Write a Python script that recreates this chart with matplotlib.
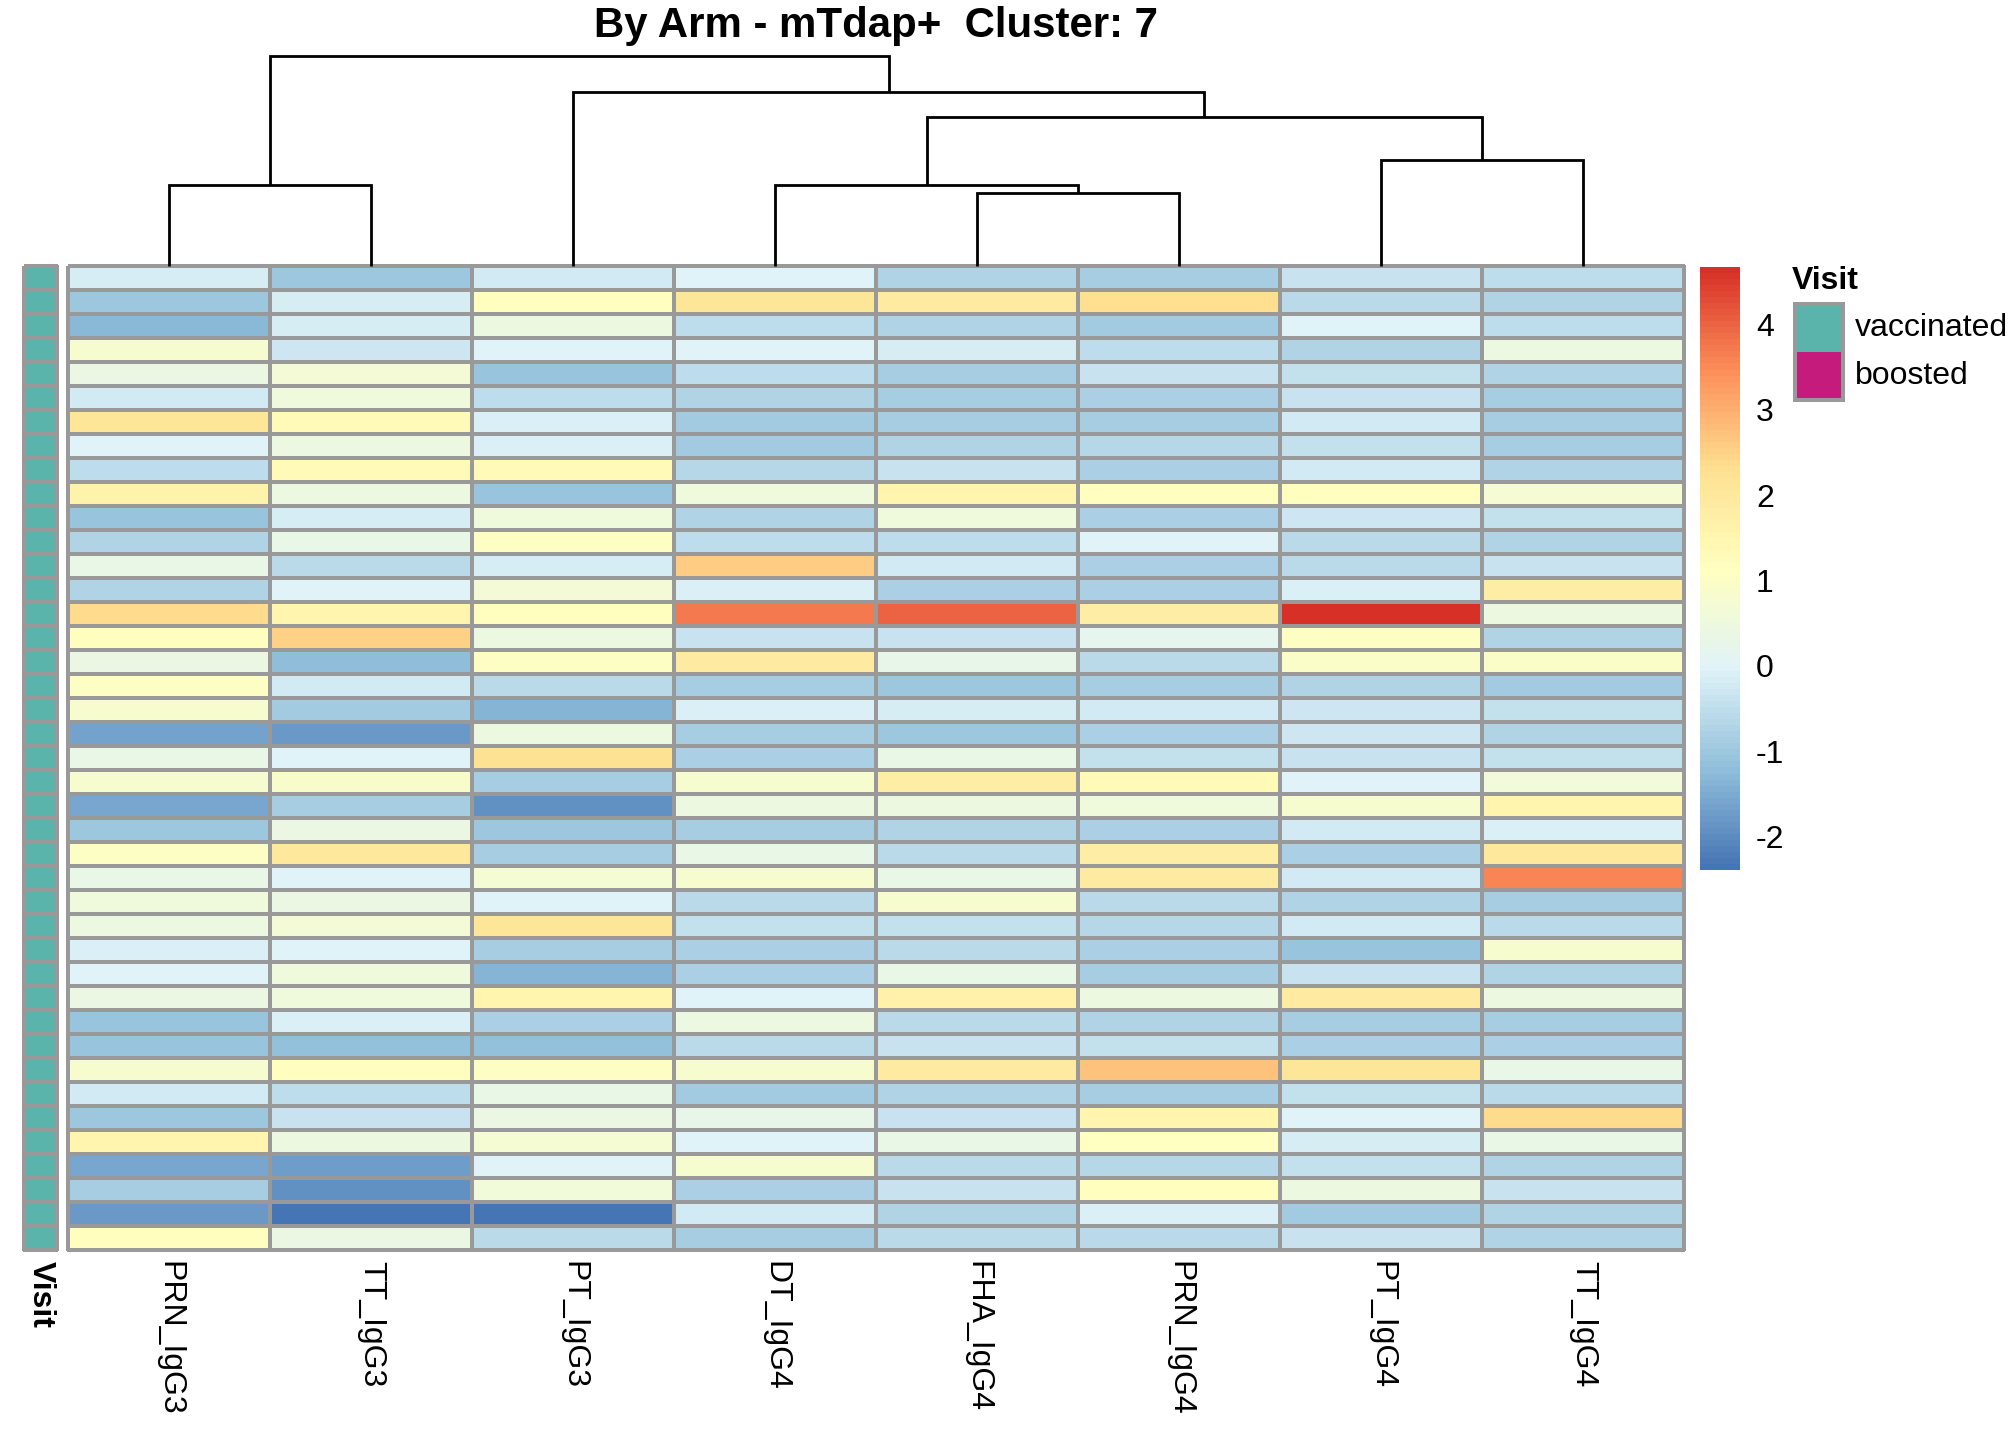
"""Clustered heatmap of antibody responses, pheatmap style."""

import matplotlib
matplotlib.use("Agg")
import matplotlib.pyplot as plt
import numpy as np
from matplotlib.cm import ScalarMappable
from matplotlib.colors import LinearSegmentedColormap, ListedColormap, Normalize
from matplotlib.patches import Rectangle

plt.rcParams["font.family"] = ["Liberation Sans", "DejaVu Sans"]
plt.rcParams["axes.unicode_minus"] = False

TITLE = "By Arm - mTdap+  Cluster: 7"
COLUMNS = ["PRN_IgG3", "TT_IgG3", "PT_IgG3", "DT_IgG4",
           "FHA_IgG4", "PRN_IgG4", "PT_IgG4", "TT_IgG4"]

PRN_IgG3 = [-0.2, -1.0, -1.3, 0.8, 0.4, -0.25, 2.1, -0.05, -0.5, 1.6, -1.05, -0.7, 0.3, -0.7,
            2.4, 1.2, 0.4, 1.0, 0.8, -1.65, 0.35, 0.8, -1.6, -1.0, 1.0, 0.35, 0.55, 0.45,
            -0.1, -0.05, 0.4, -1.05, -1.05, 0.8, -0.25, -1.0, 1.5, -1.6, -0.9, -1.8, 1.15]
TT_IgG3 = [-1.0, -0.2, -0.2, -0.3, 0.7, 0.55, 1.3, 0.5, 1.3, 0.5, -0.2, 0.3, -0.6, -0.05,
           1.5, 2.5, -1.2, -0.25, -0.95, -1.8, -0.05, 0.9, -0.9, 0.4, 2.0, -0.05, 0.4, 0.65,
           -0.05, 0.55, 0.55, -0.1, -1.15, 1.2, -0.5, -0.35, 0.45, -1.75, -1.95, -2.39, 0.4]
PT_IgG3 = [-0.25, 1.2, 0.5, -0.05, -1.05, -0.5, -0.1, -0.1, 1.3, -1.05, 0.55, 1.0, -0.2, 0.7,
           1.2, 0.5, 1.0, -0.6, -1.35, 0.45, 2.2, -0.9, -1.95, -1.0, -0.9, 0.75, -0.05, 2.1,
           -0.9, -1.35, 1.55, -0.8, -1.15, 1.0, 0.35, 0.4, 0.75, -0.05, 0.6, -2.35, -0.6]
DT_IgG4 = [0.0, 2.1, -0.5, -0.05, -0.5, -0.75, -0.95, -0.95, -0.65, 0.55, -0.7, -0.5, 2.6, -0.1,
           3.7, -0.4, 1.9, -0.9, -0.1, -0.9, -0.8, 0.8, 0.45, -0.9, 0.3, 0.85, -0.6, -0.45,
           -0.8, -0.8, -0.05, 0.45, -0.6, 0.8, -0.95, 0.25, -0.05, 0.8, -0.8, -0.25, -0.9]
FHA_IgG4 = [-0.7, 1.9, -0.7, -0.15, -0.85, -0.85, -0.9, -0.75, -0.4, 1.5, 0.55, -0.5, -0.25, -0.8,
            4.0, -0.4, 0.25, -1.0, -0.2, -1.0, 0.3, 1.8, 0.45, -0.7, -0.6, 0.3, 0.8, -0.45,
            -0.6, 0.3, 1.7, -0.6, -0.35, 1.9, -0.75, -0.35, 0.35, -0.6, -0.35, -0.7, -0.6]
PRN_IgG4 = [-0.85, 2.3, -0.95, -0.5, -0.4, -0.8, -0.85, -0.65, -0.8, 1.2, -0.8, -0.05, -0.8, -0.8,
            1.8, 0.2, -0.6, -0.9, -0.25, -0.8, -0.45, 1.3, 0.55, -0.8, 1.8, 1.9, -0.6, -0.65,
            -0.8, -0.9, 0.5, -0.7, -0.45, 2.7, -0.9, 1.5, 1.1, -0.65, 1.2, -0.1, -0.6]
PT_IgG4 = [-0.4, -0.6, -0.05, -0.75, -0.45, -0.4, -0.25, -0.45, -0.25, 1.15, -0.3, -0.6, -0.6, -0.1,
           4.65, 1.0, 0.95, -0.7, -0.3, -0.3, -0.4, -0.05, 0.8, -0.25, -0.8, -0.25, -0.7, -0.25,
           -1.05, -0.4, 1.85, -0.85, -0.8, 2.1, -0.45, -0.05, -0.15, -0.45, 0.5, -0.95, -0.4]
TT_IgG4 = [-0.5, -0.7, -0.5, 0.5, -0.7, -0.85, -0.85, -0.85, -0.7, 0.75, -0.45, -0.75, -0.35, 1.8,
           0.45, -0.7, 0.95, -0.95, -0.45, -0.75, -0.45, 0.6, 1.5, -0.1, 2.0, 3.6, -0.85, -0.6,
           0.8, -0.7, 0.45, -0.85, -0.8, 0.35, -0.6, 2.4, 0.3, -0.7, -0.35, -0.75, -0.7]

# every sample is "vaccinated" (index 0 of VISIT_LEVELS)
VISIT_LEVELS = ["vaccinated", "boosted"]
VISIT = [0] * 41

# column dendrogram: (left node, right node, height); leaves 0-7, new nodes from 8
MERGES = [(0, 1, 81), (4, 5, 73), (3, 9, 81), (6, 7, 106),
          (10, 11, 149), (2, 12, 174), (8, 13, 210)]

VMIN, VMAX = -2.39, 4.67
PALETTE = ["#4575B4", "#91BFDB", "#E0F3F8", "#FFFFBF", "#FEE090", "#FC8D59", "#D73027"]
VISIT_COLORS = ["#5AB4AC", "#C51B7D"]
BORDER = "#999999"

W, H = 2016, 1440


def box(x0, y0, x1, y1):
    """Pixel box (top-left origin) to figure fraction rect."""
    return [x0 / W, 1 - y1 / H, (x1 - x0) / W, (y1 - y0) / H]


def draw_dendrogram(ax, merges, n_leaves):
    pos = {i: (i + 0.5, 0.0) for i in range(n_leaves)}
    for k, (a, b, h) in enumerate(merges):
        xa, ha = pos[a]
        xb, hb = pos[b]
        ax.plot([xa, xa, xb, xb], [ha, h, h, hb], color="black", lw=1.4,
                solid_capstyle="butt", solid_joinstyle="miter", clip_on=False)
        pos[n_leaves + k] = ((xa + xb) / 2, h)
    ax.set_xlim(0, n_leaves)
    ax.set_ylim(0, max(m[2] for m in merges))
    ax.set_axis_off()


def main():
    data = np.column_stack([PRN_IgG3, TT_IgG3, PT_IgG3, DT_IgG4,
                            FHA_IgG4, PRN_IgG4, PT_IgG4, TT_IgG4])
    n_rows, n_cols = data.shape
    cmap = LinearSegmentedColormap.from_list("rdylbu_r", PALETTE, N=100)
    norm = Normalize(VMIN, VMAX)

    fig = plt.figure(figsize=(W / 144, H / 144), dpi=144)

    ax = fig.add_axes(box(68, 266, 1684, 1250))
    mesh = ax.pcolormesh(np.arange(n_cols + 1), np.arange(n_rows + 1), data,
                         cmap=cmap, norm=norm, edgecolors=BORDER, linewidth=1.1)
    mesh.set_clip_on(False)
    ax.set_xlim(0, n_cols)
    ax.set_ylim(n_rows, 0)
    ax.set_axis_off()
    for i, name in enumerate(COLUMNS):
        ax.text(i + 0.5, n_rows + 0.45, name, rotation=-90, ha="center", va="top",
                fontsize=16)

    ann = fig.add_axes(box(24, 266, 57, 1250))
    acm = ListedColormap(VISIT_COLORS)
    am = ann.pcolormesh([0, 1], np.arange(n_rows + 1), np.array(VISIT)[:, None],
                        cmap=acm, vmin=-0.5, vmax=1.5, edgecolors=BORDER, linewidth=1.1)
    am.set_clip_on(False)
    ann.set_xlim(0, 1)
    ann.set_ylim(n_rows, 0)
    ann.set_axis_off()
    ann.text(0.5, n_rows + 0.45, "Visit", rotation=-90, ha="center", va="top",
             fontsize=16, fontweight="bold")

    dend = fig.add_axes(box(68, 56, 1684, 266))
    draw_dendrogram(dend, MERGES, n_cols)

    fig.text(876 / W, 1 - 26 / H, TITLE, ha="center", va="center",
             fontsize=21, fontweight="bold")

    cax = fig.add_axes(box(1700, 267, 1740, 870))
    cb = fig.colorbar(ScalarMappable(norm=norm, cmap=cmap), cax=cax)
    cb.outline.set_visible(False)
    cb.set_ticks([-2, -1, 0, 1, 2, 3, 4])
    cax.tick_params(length=0, labelsize=16, pad=8)

    # annotation legend
    fig.text(1792 / W, 1 - 281 / H, "Visit", ha="left", va="center",
             fontsize=16, fontweight="bold")
    lx0, lx1, ly0, step = 1795, 1843, 304, 48
    for k, (lab, col) in enumerate(zip(VISIT_LEVELS, VISIT_COLORS)):
        y0 = ly0 + k * step
        fig.patches.append(Rectangle((lx0 / W, 1 - (y0 + step) / H), (lx1 - lx0) / W,
                                     step / H, transform=fig.transFigure,
                                     facecolor=col, edgecolor="none"))
        fig.text(1855 / W, 1 - (y0 + step / 2) / H, lab, ha="left", va="center",
                 fontsize=16)
    fig.patches.append(Rectangle((lx0 / W, 1 - (ly0 + 2 * step) / H), (lx1 - lx0) / W,
                                 2 * step / H, transform=fig.transFigure,
                                 facecolor="none", edgecolor=BORDER, linewidth=2))

    fig.savefig("out.png", dpi=144)
    plt.close(fig)


if __name__ == "__main__":
    main()
